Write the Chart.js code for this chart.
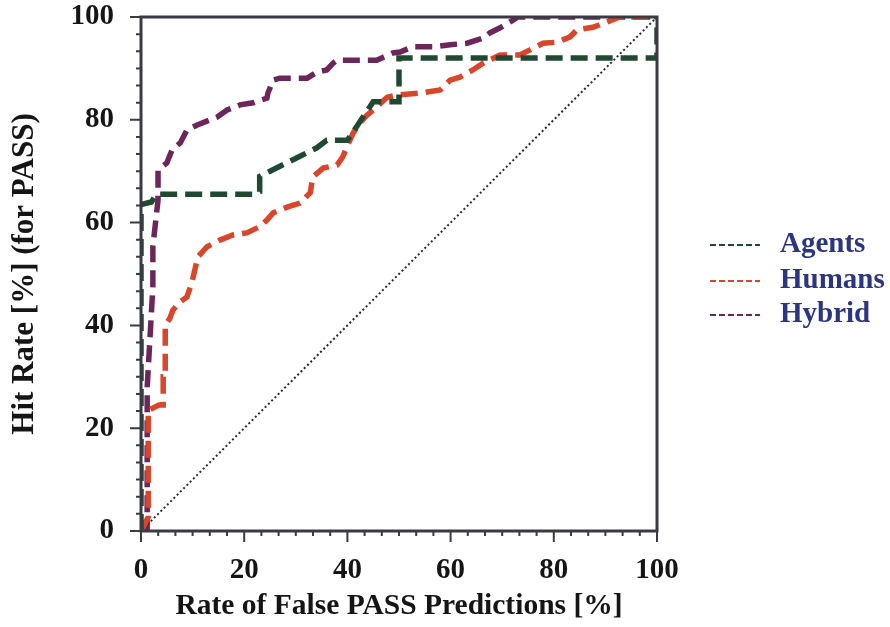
<!DOCTYPE html>
<html>
<head>
<meta charset="utf-8">
<script src="https://cdn.jsdelivr.net/npm/chart.js@4"></script>
<style>
  body { margin: 0; background: #fff; }
  #wrap { width: 890px; height: 627px; }
</style>
</head>
<body>
<div id="wrap"><canvas id="grafico" width="890" height="627"></canvas></div>
<script>
// valores (x = falsos PASS %, y = aciertos %)
const agentesX = [0, 0, 2, 3, 22, 23, 23, 25, 28, 31, 34, 36, 40, 42, 44, 45, 50, 50, 100, 100];
const agentesY = [0, 63.5, 64, 65.5, 65.5, 66, 69, 70, 71.5, 73, 74.5, 76, 76, 79, 82, 83.5, 83.5, 92, 92, 100];

const humanosX = [0, 1.4, 1.4, 3.5, 4.3, 4.3, 4.7, 4.7, 5.6, 6.2, 7.6, 8.9, 9.9, 11, 12.8, 15.3, 17.8, 20.5, 23, 24.4, 25.6, 28.3, 30.8, 32.8, 33.3, 35.3, 38, 39.1, 39.9, 41.1, 42.4, 43.8, 45.7, 47.7, 49.6, 54, 58, 59.9, 61.8, 64.3, 66.3, 69.6, 73.4, 75.4, 77.9, 80.6, 83.1, 84.5, 87.6, 92.8, 98.6, 100];
const humanosY = [0, 2.7, 23.5, 24.5, 24.5, 30, 30, 40, 41.4, 43, 44.6, 45.5, 48.5, 53.3, 55.3, 56.6, 57.6, 58, 59.2, 60.5, 61.9, 63, 63.8, 65.8, 68.9, 70.6, 71.2, 72.8, 74.7, 77.4, 79.4, 80.9, 82.5, 84.4, 84.8, 85.2, 85.8, 87.7, 88.3, 89.7, 91, 92.6, 92.6, 93.6, 94.9, 95.1, 96.1, 97.5, 98, 100, 100, 100];

const hibridoX = [0, 1.2, 1.2, 2.3, 2.3, 3.3, 3.3, 5, 6, 7.6, 8.9, 10.9, 13.4, 14.7, 16.7, 19.2, 21.7, 24.4, 24.6, 25.6, 26.9, 32.2, 34.1, 36, 37.2, 38, 45.7, 48.8, 50.2, 52.7, 56.6, 59.9, 63.2, 66.3, 67.6, 69.6, 72.1, 73, 100];
const hibridoY = [0, 0, 28, 47.5, 55.3, 64.4, 70.2, 71.6, 74.1, 75.5, 78, 79, 80, 80.5, 81.9, 82.9, 83.3, 84.2, 85.2, 87.7, 88.1, 88.1, 89.3, 89.7, 91, 91.6, 91.6, 93, 93.2, 94.2, 94.2, 94.6, 94.9, 95.9, 96.9, 97.9, 99.4, 100, 100];

const diagonalX = [0, 100];
const diagonalY = [0, 100];

const etiquetasTicks = [0, 20, 40, 60, 80, 100];

function puntos(xs, ys) {
    const data = [];
    for (let i = 0; i < xs.length; i++) {
        data.push({ x: xs[i], y: ys[i] });
    }
    return data;
}

const familia = "'Liberation Serif', 'Times New Roman', serif";
const fuente = { family: familia, size: 29, weight: 'bold' };

// marcas de escala (mayores y menores), marco y leyenda
const marcoPlugin = {
    id: 'marco',
    afterDraw(chart) {
        const ctx = chart.ctx;
        const area = chart.chartArea;
        const sx = chart.scales.x;
        const sy = chart.scales.y;
        ctx.save();
        ctx.strokeStyle = '#3a3a44';
        ctx.lineWidth = 3;
        ctx.strokeRect(area.left, area.top, area.right - area.left, area.bottom - area.top);
        ctx.lineWidth = 2;
        for (let i = 0; i <= 30; i++) {
            const v = i * 10 / 3;
            const largo = (i % 6 === 0) ? 11 : 5;
            const px = sx.getPixelForValue(v);
            const py = sy.getPixelForValue(v);
            ctx.beginPath();
            ctx.moveTo(px, area.bottom);
            ctx.lineTo(px, area.bottom + largo);
            ctx.moveTo(area.left, py);
            ctx.lineTo(area.left - largo, py);
            ctx.stroke();
        }
        // leyenda
        const filasY = [245, 281, 315];
        let fila = 0;
        chart.data.datasets.forEach(ds => {
            if (!ds.label) return;
            const y = filasY[fila++];
            ctx.strokeStyle = ds.borderColor;
            ctx.lineWidth = 2;
            ctx.setLineDash([6, 3]);
            ctx.beginPath();
            ctx.moveTo(710, y);
            ctx.lineTo(760, y);
            ctx.stroke();
            ctx.setLineDash([]);
            ctx.fillStyle = '#2b3580';
            ctx.font = "bold 29px " + familia;
            ctx.textBaseline = 'middle';
            ctx.textAlign = 'left';
            ctx.fillText(ds.label, 780, y);
        });
        ctx.restore();
    }
};

const ctx = document.getElementById('grafico').getContext('2d');
new Chart(ctx, {
    type: 'scatter',
    data: {
        datasets: [
            {
                label: 'Agents',
                data: puntos(agentesX, agentesY),
                showLine: true,
                borderColor: '#1f4a31',
                borderWidth: 5.5,
                borderDash: [17, 8],
                pointRadius: 0,
                tension: 0
            },
            {
                label: 'Humans',
                data: puntos(humanosX, humanosY),
                showLine: true,
                borderColor: '#d8462c',
                borderWidth: 5.5,
                borderDash: [17, 8],
                pointRadius: 0,
                tension: 0
            },
            {
                label: 'Hybrid',
                data: puntos(hibridoX, hibridoY),
                showLine: true,
                borderColor: '#6c2659',
                borderWidth: 5.5,
                borderDash: [17, 8],
                pointRadius: 0,
                tension: 0
            },
            {
                label: '',
                data: puntos(diagonalX, diagonalY),
                showLine: true,
                borderColor: '#2a2a35',
                borderWidth: 2,
                borderDash: [2, 2.6],
                pointRadius: 0
            }
        ]
    },
    options: {
        responsive: false,
        animation: false,
        layout: { padding: { top: 17, right: 233, left: 0, bottom: 0 } },
        plugins: {
            legend: { display: false },
            tooltip: { enabled: false }
        },
        scales: {
            x: {
                type: 'linear',
                min: 0,
                max: 100,
                afterFit(scale) {
                    scale.height = 96;
                    scale.paddingLeft = 0;
                    scale.paddingRight = 0;
                },
                afterBuildTicks(scale) { scale.ticks = etiquetasTicks.map(v => ({ value: v })); },
                grid: { display: false, drawTicks: false },
                border: { display: false },
                ticks: { font: fuente, color: '#151515', padding: 22, maxRotation: 0 },
                title: {
                    display: true,
                    text: 'Rate of False PASS Predictions [%]',
                    font: { family: familia, size: 29.5, weight: 'bold' },
                    color: '#151515',
                    padding: { top: 4, bottom: 3 }
                }
            },
            y: {
                type: 'linear',
                min: 0,
                max: 100,
                afterFit(scale) {
                    scale.width = 141;
                    scale.paddingTop = 0;
                    scale.paddingBottom = 0;
                },
                afterBuildTicks(scale) { scale.ticks = etiquetasTicks.map(v => ({ value: v })); },
                grid: { display: false, drawTicks: false },
                border: { display: false },
                ticks: { font: fuente, color: '#151515', padding: 27 },
                title: {
                    display: true,
                    text: 'Hit Rate [%] (for PASS)',
                    font: { family: familia, size: 31, weight: 'bold' },
                    color: '#151515',
                    padding: { top: 6, bottom: 4 }
                }
            }
        }
    },
    plugins: [marcoPlugin]
});
</script>
</body>
</html>
